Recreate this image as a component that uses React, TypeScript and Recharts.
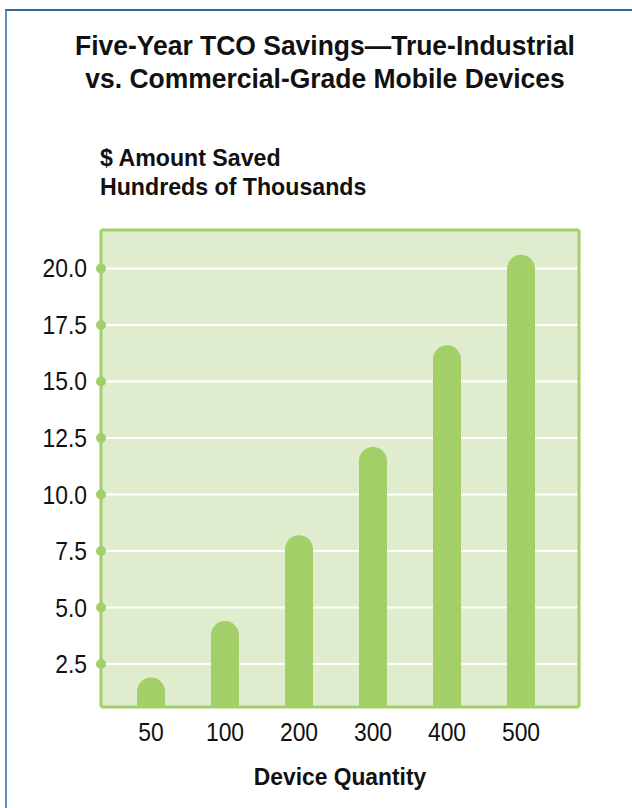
import React from "react";
import { BarChart, Bar, XAxis, YAxis, CartesianGrid } from "recharts";

const quantities = ["50", "100", "200", "300", "400", "500"];
const savings = [1.9, 4.4, 8.2, 12.1, 16.6, 20.6];
const yTicks = [2.5, 5, 7.5, 10, 12.5, 15, 17.5, 20];

const data = quantities.map((q, i) => ({ q, v: savings[i] }));

const GREEN = "#a3cf69";
const BG = "#e0ecce";
const SANS = "'Liberation Sans', Arial, sans-serif";
const frame = { stroke: GREEN, strokeWidth: 3 };

const YTick = (props: any) => {
  const { x, y, payload } = props;
  return (
    <g>
      <circle cx={x} cy={y} r={5} fill={GREEN} />
      <text transform={`translate(${x - 14},${y}) scale(0.88,1)`} textAnchor="end" dominantBaseline="central" fontFamily={SANS} fontSize={26} fill="#111">
        {Number(payload.value).toFixed(1)}
      </text>
    </g>
  );
};

const XTick = (props: any) => {
  const { x, y, payload } = props;
  return (
    <text transform={`translate(${x},${y}) scale(0.88,1)`} textAnchor="middle" dominantBaseline="central" fontFamily={SANS} fontSize={26} fill="#111">
      {payload.value}
    </text>
  );
};

const boldText = { fontFamily: SANS, fontWeight: 700, color: "#111" } as const;

export default function App() {
  return (
    <div style={{ position: "absolute", left: 0, top: 0, width: 632, height: 808, background: "#fff", overflow: "hidden" }}>
      <div style={{ position: "absolute", left: 5, top: 9, width: 700, height: 900, borderLeft: "2px solid #5a8fbd", borderTop: "2px solid #2f6a9a" }} />
      <div style={{ ...boldText, position: "absolute", left: 0, width: 650, top: 30, textAlign: "center", fontSize: 27, lineHeight: "33px", transform: "scaleX(0.98)", transformOrigin: "325px 0" }}>
        Five-Year TCO Savings—True-Industrial<br />vs. Commercial-Grade Mobile Devices
      </div>
      <div style={{ ...boldText, position: "absolute", left: 100, top: 143, fontSize: 24, lineHeight: "29px", transform: "scaleX(0.965)", transformOrigin: "0 0", whiteSpace: "nowrap" }}>
        $ Amount Saved<br />Hundreds of Thousands
      </div>
      <div style={{ position: "absolute", left: 0, top: 0 }}>
        <BarChart width={632} height={808} data={data} margin={{ top: 229, right: 52, bottom: 71, left: 41 }}>
          <CartesianGrid vertical={false} stroke="#ffffff" strokeWidth={2} fill={BG} fillOpacity={1} />
          <XAxis dataKey="q" axisLine={frame} tickLine={false} tickSize={0} tick={<XTick />} tickMargin={25} padding={{ left: 13, right: 21 }} />
          <XAxis xAxisId="top" orientation="top" dataKey="q" height={1} axisLine={frame} tickLine={false} tick={false} />
          <YAxis width={60} domain={[0.6, 21.7]} ticks={yTicks} allowDataOverflow axisLine={frame} tickLine={false} tickSize={0} tickMargin={0} tick={<YTick />} />
          <YAxis yAxisId="right" orientation="right" width={1} domain={[0.6, 21.7]} axisLine={frame} tickLine={false} tick={false} />
          <Bar dataKey="v" fill={GREEN} barSize={28} radius={[14, 14, 0, 0]} isAnimationActive={false} />
        </BarChart>
      </div>
      <div style={{ ...boldText, position: "absolute", left: 0, width: 680, top: 762, textAlign: "center", fontSize: 24, lineHeight: "30px", transform: "scaleX(0.95)", transformOrigin: "340px 0" }}>
        Device Quantity
      </div>
    </div>
  );
}
